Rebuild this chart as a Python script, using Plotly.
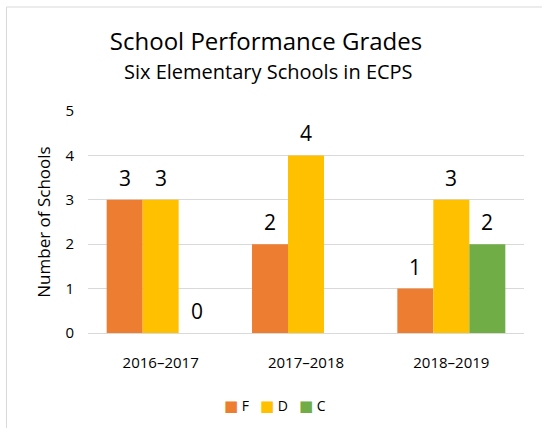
import plotly.graph_objects as go

categories = ["2016–2017", "2017–2018", "2018–2019"]
series_names = ["F", "D", "C"]
f_values = [3, 2, 1]
d_values = [3, 4, 3]
c_values = [0, None, 2]
colors = ["#ED7D31", "#FFC000", "#70AD47"]

FONT = "Open Sans, sans-serif"

W, H = 542, 428
ML, MR, MT, MB = 88, 18, 111, 95
BARGAP = 0.257
plot_w = W - ML - MR
plot_h = H - MT - MB
bar_w = plot_w / len(categories) * (1 - BARGAP) / len(series_names)

fig = go.Figure()
all_vals = [f_values, d_values, c_values]
for name, vals, col in zip(series_names, all_vals, colors):
    fig.add_trace(go.Bar(x=categories, y=vals, name=name, marker_color=col, marker_line_width=0,
                         showlegend=False))

# value labels above bars
annotations = []
for i, vals in enumerate(all_vals):
    for cat, v in zip(categories, vals):
        if v is None:
            continue
        annotations.append(dict(
            x=cat, y=v, xref="x", yref="y", text=str(v), showarrow=False,
            xshift=(i - (len(series_names) - 1) / 2) * bar_w, yshift=22,
            yanchor="middle", font=dict(size=21, family=FONT, color="#000000"),
        ))
annotations.append(dict(
    text="Six Elementary Schools in ECPS", xref="paper", yref="paper",
    x=(268 - ML) / plot_w, y=(H - MB - 71) / plot_h, xanchor="center", yanchor="middle", showarrow=False,
    font=dict(size=20, family=FONT, color="#000000"),
))
# legend row (built from series names and colours)
NB = "\u00a0"
legend_text = (NB * 3).join(
    f"<span style='color:{c};font-family:DejaVu Sans;font-size:15px'>■</span>{NB}{n}"
    for n, c in zip(series_names, colors)
)
annotations.append(dict(
    text=legend_text, xref="paper", yref="paper",
    x=(275 - ML) / plot_w, y=(H - MB - 405) / plot_h, xanchor="center", yanchor="middle",
    showarrow=False, font=dict(size=14, family=FONT, color="#000000"),
))

fig.update_layout(
    width=W, height=H,
    margin=dict(l=ML, r=MR, t=MT, b=MB, autoexpand=False),
    paper_bgcolor="white", plot_bgcolor="white",
    barmode="group", bargap=BARGAP, bargroupgap=0,
    font=dict(family=FONT, color="#000000"),
    title=dict(
        text="School Performance Grades",
        x=266 / W, xanchor="center", xref="container", y=1 - 42 / H, yanchor="middle",
        font=dict(size=24, family=FONT, color="#000000"),
    ),
    xaxis=dict(showline=True, linecolor="#D9D9D9", tickfont=dict(size=15, family=FONT), ticks="",
               ticklabelstandoff=16, automargin=False),
    yaxis=dict(range=[0, 5], dtick=1, showgrid=True, gridcolor="#D9D9D9", zeroline=False,
               tickfont=dict(size=15, family=FONT), automargin=False,
               title=dict(text="Number of Schools", font=dict(size=17, family=FONT), standoff=10),
               ticklabelstandoff=13),
    annotations=annotations,
    showlegend=False,
)
fig.add_shape(type="rect", xref="paper", yref="paper", x0=(6.5 - ML) / plot_w, y0=-0.6, x1=1.2,
              y1=(H - MB - 7) / plot_h, line=dict(color="#D9D9D9", width=1),
              fillcolor="rgba(0,0,0,0)", layer="below")

fig.write_html("out.html", config={"displayModeBar": False},
               post_script="document.body.style.margin='0';")
